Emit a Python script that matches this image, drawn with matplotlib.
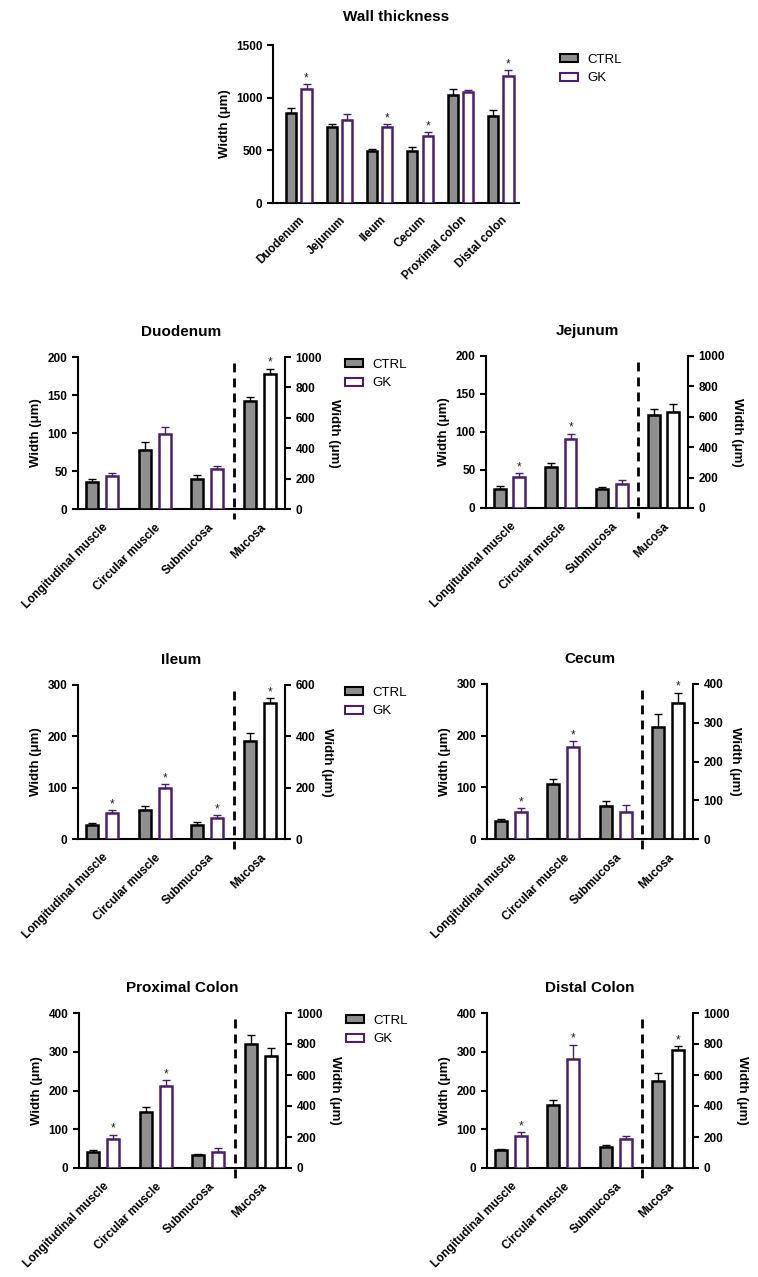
import matplotlib
matplotlib.use("Agg")
import matplotlib.pyplot as plt
from matplotlib.patches import Patch
import numpy as np

plt.rcParams['font.family'] = ['Liberation Sans', 'DejaVu Sans']
plt.rcParams['font.weight'] = 'bold'

# ---------------- data ----------------
wall_regions = ["Duodenum", "Jejunum", "Ileum", "Cecum", "Proximal colon", "Distal colon"]
wall_ctrl = [855, 718, 492, 496, 1022, 827]
wall_ctrl_err = [45, 32, 23, 34, 62, 57]
wall_gk = [1082, 790, 722, 638, 1052, 1207]
wall_gk_err = [44, 52, 27, 35, 22, 55]
wall_sig = [True, False, True, True, False, True]

layers = ["Longitudinal muscle", "Circular muscle", "Submucosa", "Mucosa"]

duodenum_ctrl = [35, 77.5, 40, 709]
duodenum_ctrl_err = [5, 11, 4.5, 28]
duodenum_gk = [43.5, 99, 53, 890]
duodenum_gk_err = [3.5, 9, 3.5, 33]
duodenum_sig = [False, False, False, True]

jejunum_ctrl = [25.5, 54, 24.8, 613]
jejunum_ctrl_err = [3, 5.5, 3, 36]
jejunum_gk = [41, 91, 32, 629]
jejunum_gk_err = [4.5, 7, 4.5, 52]
jejunum_sig = [True, True, False, False]

ileum_ctrl = [27, 56.5, 27, 383]
ileum_ctrl_err = [5, 8, 7, 29]
ileum_gk = [51, 100, 40.5, 529]
ileum_gk_err = [5, 7, 6, 19]
ileum_sig = [True, True, True, True]

cecum_ctrl = [35.5, 107, 63, 290]
cecum_ctrl_err = [4, 10, 10, 32]
cecum_gk = [53, 178, 53, 351]
cecum_gk_err = [6.5, 11, 12, 26]
cecum_sig = [True, True, False, True]

prox_ctrl = [41.5, 145, 33, 799]
prox_ctrl_err = [4, 13, 3, 56]
prox_gk = [76, 211, 41.5, 724]
prox_gk_err = [10, 15, 9, 49]
prox_sig = [True, True, False, False]

distal_ctrl = [45.5, 162.5, 54.5, 562]
distal_ctrl_err = [4.5, 13, 4.5, 50]
distal_gk = [82, 281, 76, 762]
distal_gk_err = [11, 37, 7, 22]
distal_sig = [True, True, False, True]

# ---------------- style ----------------
GRAY = '#8f8f8f'
PURPLE = '#4b1f6e'
W, H = 758, 1277
fig = plt.figure(figsize=(W / 100, H / 100), dpi=100)

def frac(x0, y0, x1, y1):
    return [x0 / W, 1 - y1 / H, (x1 - x0) / W, (y1 - y0) / H]

TICKFS = 8.5
LABFS = 9.5
TITLEFS = 11

def style_ax(ax):
    ax.spines['top'].set_visible(False)
    for s in ['left', 'bottom', 'right']:
        ax.spines[s].set_linewidth(1.5)
    ax.tick_params(axis='both', width=1.5, length=4, labelsize=TICKFS)
    for lab in ax.get_yticklabels() + ax.get_xticklabels():
        lab.set_fontweight('bold')

def bar(ax, x, h, err, face, edge, ecol, bw, star):
    ax.bar(x, h, width=bw, color=face, edgecolor=edge, linewidth=1.8, zorder=3)
    ax.errorbar(x, h, yerr=[[0], [err]], fmt='none', ecolor=ecol, elinewidth=1.0,
                capsize=3, capthick=1.0, zorder=2)
    if star:
        ax.text(x, h + err, '*', ha='center', va='bottom', fontsize=8.5,
                fontweight='normal', color='#222222')

# ---------------- top wall thickness panel ----------------
ax0 = fig.add_axes(frac(273, 45, 519, 203))
x = np.arange(len(wall_regions))
off, bw = 0.19, 0.25
for i in range(len(wall_regions)):
    bar(ax0, x[i] - off, wall_ctrl[i], wall_ctrl_err[i], GRAY, 'black', 'black', bw, False)
    bar(ax0, x[i] + off, wall_gk[i], wall_gk_err[i], 'white', PURPLE, PURPLE, bw, wall_sig[i])
ax0.set_xlim(-0.64, 5.45)
ax0.set_ylim(0, 1500)
ax0.set_yticks([0, 500, 1000, 1500])
ax0.set_xticks(x)
ax0.set_xticklabels(wall_regions, rotation=45, ha='right', rotation_mode='anchor')
ax0.spines['right'].set_visible(False)
ax0.set_ylabel('Width (μm)', fontsize=LABFS, fontweight='bold')
ax0.set_title('Wall thickness', fontsize=TITLEFS, fontweight='bold', pad=17)
style_ax(ax0)
ax0.tick_params(axis='x', length=0, pad=8)

handles = [Patch(facecolor=GRAY, edgecolor='black', linewidth=1.5, label='CTRL'),
           Patch(facecolor='white', edgecolor=PURPLE, linewidth=1.5, label='GK')]

def add_legend(xpix, ypix):
    leg = fig.legend(handles=handles, loc='upper left',
                     bbox_to_anchor=(xpix / W, 1 - ypix / H), frameon=False,
                     prop={'size': 9.5, 'weight': 'normal'}, handlelength=1.4,
                     handleheight=0.6, labelspacing=0.5, handletextpad=0.7)
    return leg

add_legend(548, 42)

# ---------------- layer panels ----------------
panels = [
    ("Duodenum", duodenum_ctrl, duodenum_ctrl_err, duodenum_gk, duodenum_gk_err, duodenum_sig,
     (78, 357, 285, 509), 200, 1000, [0, 50, 100, 150, 200], [0, 200, 400, 600, 800, 1000], True),
    ("Jejunum", jejunum_ctrl, jejunum_ctrl_err, jejunum_gk, jejunum_gk_err, jejunum_sig,
     (486, 356, 688, 508), 200, 1000, [0, 50, 100, 150, 200], [0, 200, 400, 600, 800, 1000], False),
    ("Ileum", ileum_ctrl, ileum_ctrl_err, ileum_gk, ileum_gk_err, ileum_sig,
     (78, 685, 285, 839), 300, 600, [0, 100, 200, 300], [0, 200, 400, 600], True),
    ("Cecum", cecum_ctrl, cecum_ctrl_err, cecum_gk, cecum_gk_err, cecum_sig,
     (487, 684, 693, 839), 300, 400, [0, 100, 200, 300], [0, 100, 200, 300, 400], False),
    ("Proximal Colon", prox_ctrl, prox_ctrl_err, prox_gk, prox_gk_err, prox_sig,
     (79, 1013, 286, 1168), 400, 1000, [0, 100, 200, 300, 400], [0, 200, 400, 600, 800, 1000], True),
    ("Distal Colon", distal_ctrl, distal_ctrl_err, distal_gk, distal_gk_err, distal_sig,
     (487, 1013, 693, 1168), 400, 1000, [0, 100, 200, 300, 400], [0, 200, 400, 600, 800, 1000], False),
]

for (title, c, ce, g, ge, sig, box, lmax, rmax, lt, rt, legend) in panels:
    ax = fig.add_axes(frac(*box))
    axr = ax.twinx()
    xs = np.arange(len(layers))
    off, bw = 0.19, 0.23
    for i in range(3):
        bar(ax, xs[i] - off, c[i], ce[i], GRAY, 'black', 'black', bw, False)
        bar(ax, xs[i] + off, g[i], ge[i], 'white', PURPLE, PURPLE, bw, sig[i])
    bar(axr, xs[3] - off, c[3], ce[3], GRAY, 'black', 'black', bw, False)
    bar(axr, xs[3] + off, g[3], ge[3], 'white', 'black', 'black', bw, sig[3])
    ax.set_xlim(-0.46, 3.48)
    ax.set_ylim(0, lmax)
    axr.set_ylim(0, rmax)
    ax.set_yticks(lt)
    axr.set_yticks(rt)
    ax.set_xticks(xs)
    ax.set_xticklabels(layers, rotation=45, ha='right', rotation_mode='anchor')
    axr.plot([2.5, 2.5], [rmax * 0.96, -rmax * 0.065], color='black', lw=2,
             linestyle=(0, (3.2, 2.2)), clip_on=False, zorder=6)
    ax.set_ylabel('Width (μm)', fontsize=LABFS, fontweight='bold')
    axr.set_ylabel('Width (μm)', fontsize=LABFS, fontweight='bold', rotation=270, labelpad=13)
    ax.set_title(title, fontsize=TITLEFS, fontweight='bold', pad=15)
    style_ax(ax)
    style_ax(axr)
    axr.spines['left'].set_visible(False)
    axr.spines['bottom'].set_visible(False)
    ax.spines['right'].set_visible(False)
    ax.tick_params(axis='x', length=0, pad=9)
    if legend:
        add_legend(box[2] + 48, box[1] - 10)

fig.savefig('out.png', dpi=100)
